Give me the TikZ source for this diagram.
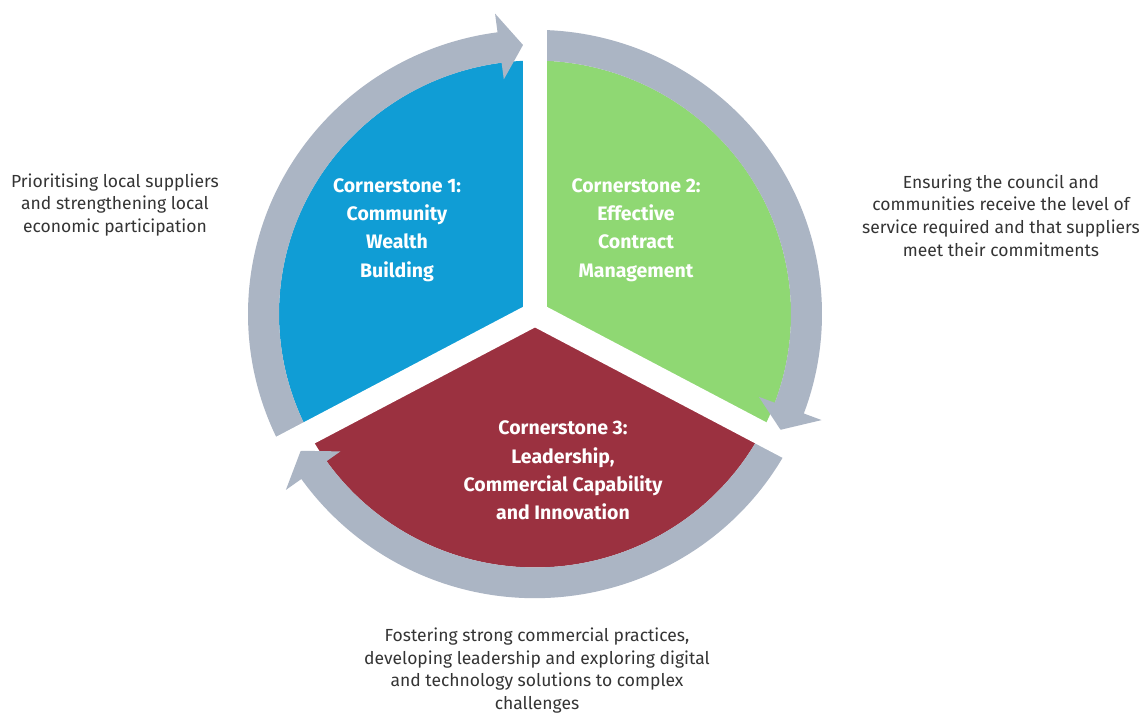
\documentclass[tikz,border=0pt]{standalone}
\usepackage{fontspec}
\setmainfont{Fira Sans}
\begin{document}
\begin{tikzpicture}[x=1pt,y=1pt,
  csblue/.style={fill={rgb,255:red,16;green,157;blue,213}},
  csgreen/.style={fill={rgb,255:red,143;green,216;blue,115}},
  csred/.style={fill={rgb,255:red,155;green,49;blue,64}},
  ringarrow/.style={fill={rgb,255:red,171;green,181;blue,196}},
  gapstrip/.style={fill=white},
  cstitle/.style={text=white, align=center, font=\fontsize{19.5}{28.3}\selectfont\bfseries},
  cstext/.style={text={rgb,255:red,52;green,52;blue,52}, align=center, font=\fontsize{17.5}{22.6}\selectfont}]
\useasboundingbox (0,0) rectangle (1143,715);
\fill[white] (0,0) rectangle (1143,715);

\begin{scope}[shift={(535,401)}, yscale=0.99]
  % three sectors
  \fill[csblue]  (0,0) -- (90:256) arc[start angle=90, end angle=208, radius=256] -- cycle;
  \fill[csgreen] (0,0) -- (-28:256) arc[start angle=-28, end angle=90, radius=256] -- cycle;
  \fill[csred]   (0,0) -- (208:256) arc[start angle=208, end angle=332, radius=256] -- cycle;

  % curved ring arrows, running clockwise
  \fill[ringarrow] (208:287) arc[start angle=208, end angle=97.5, radius=287]
    -- (97.5:306) -- (92.53:272) -- (97.5:239) -- (97.5:256)
    arc[start angle=97.5, end angle=208, radius=256] -- cycle;
  \fill[ringarrow] (90:287) arc[start angle=90, end angle=-20.5, radius=287]
    -- (-20.5:306) -- (-25.47:272) -- (-20.5:239) -- (-20.5:256)
    arc[start angle=-20.5, end angle=90, radius=256] -- cycle;
  \fill[ringarrow] (-28:287) arc[start angle=-28, end angle=-144.5, radius=287]
    -- (-144.5:306) -- (-149.47:272) -- (-144.5:239) -- (-144.5:256)
    arc[start angle=-144.5, end angle=-28, radius=256] -- cycle;

  % white gaps between the cornerstones
  \foreach \a in {90,208,332}
    \fill[gapstrip, rotate=\a] (0,-12) -- (330,-12) -- (330,12) -- (0,12) -- cycle;
\end{scope}

% labels inside the sectors
\node[cstitle] (c1) at (397,485) {Cornerstone 1:\\Community\\Wealth\\Building};
\node[cstitle] (c2) at (636,485) {Cornerstone 2:\\Effective\\Contract\\Management};
\node[cstitle] (c3) at (563,244.5) {Cornerstone 3:\\Leadership,\\Commercial Capability\\and Innovation};

% descriptions
\node[cstext] (d1) at (115,510) {Prioritising local suppliers\\and strengthening local\\economic participation};
\node[cstext] (d2) at (1001,499.5) {Ensuring the council and\\communities receive the level of\\service required and that suppliers\\meet their commitments};
\node[cstext] (d3) at (537,44.5) {Fostering strong commercial practices,\\developing leadership and exploring digital\\and technology solutions to complex\\challenges};
\end{tikzpicture}
\end{document}
